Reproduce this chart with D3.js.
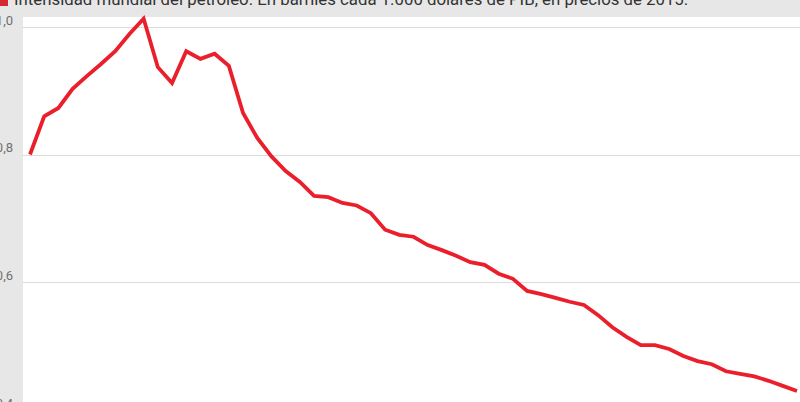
<!DOCTYPE html>
<html>
<head>
<meta charset="utf-8">
<script src="https://cdn.jsdelivr.net/npm/d3@7"></script>
<style>
  body { margin: 0; background: #e6e7e6; }
  svg { display: block; }
</style>
</head>
<body>
<svg id="chart" width="800" height="402"></svg>
<script>
let years = d3.range(1965, 2020);
let intensity = [
  0.800, 0.860, 0.873, 0.903, 0.923, 0.942, 0.962, 0.989, 1.013, 0.937,
  0.912, 0.962, 0.950, 0.958, 0.939, 0.865, 0.826, 0.797, 0.774, 0.757,
  0.735, 0.733, 0.724, 0.720, 0.708, 0.682, 0.674, 0.671, 0.658, 0.650,
  0.641, 0.631, 0.627, 0.613, 0.605, 0.586, 0.581, 0.575, 0.569, 0.564,
  0.548, 0.529, 0.514, 0.501, 0.501, 0.495, 0.484, 0.476, 0.471, 0.460,
  0.456, 0.452, 0.445, 0.437, 0.429
];
let yTicks = [0.4, 0.6, 0.8, 1.0];
let title = "Intensidad mundial del petróleo. En barriles cada 1.000 dólares de PIB, en precios de 2015.";

let data = years.map((y, i) => ({year: y, value: intensity[i]}));

let svg = d3.select("#chart");
let width = 800, height = 402;
let plotLeft = 23, plotTop = 17;

let lineColor = "#ea1f2b";
let gridColor = "#dcdcdc";
let labelColor = "#6f6f6f";

let x = d3.scaleLinear().domain([1965, 2019]).range([30, 797]);
let y = d3.scaleLinear().domain([0.4, 1.0]).range([409.5, 27]);

// grey frame + white plot area
svg.append("rect")
  .attr("width", width).attr("height", height)
  .attr("fill", "#e6e7e6");
svg.append("rect")
  .attr("x", plotLeft).attr("y", plotTop)
  .attr("width", width - plotLeft).attr("height", height - plotTop)
  .attr("fill", "#ffffff");

// gridlines
svg.append("g")
  .attr("transform", "translate(" + plotLeft + ",0)")
  .call(d3.axisLeft(y).tickValues(yTicks).tickSize(-(width - plotLeft)).tickFormat(""))
  .call(g => g.select(".domain").remove())
  .selectAll("line")
    .attr("stroke", gridColor)
    .attr("shape-rendering", "crispEdges");

// tick labels (the left edge of the original is cropped)
svg.append("g")
  .selectAll("text")
  .data(yTicks)
  .enter()
  .append("text")
  .attr("x", 13)
  .attr("y", d => Math.round(y(d)) - 2)
  .attr("text-anchor", "end")
  .attr("fill", labelColor)
  .style("font-family", "'Liberation Sans Narrow', 'Roboto', sans-serif")
  .style("font-size", "13px")
  .text(d => d3.format(".1f")(d).replace(".", ","));

// line
let line = d3.line()
  .x(d => x(d.year))
  .y(d => y(d.value));

svg.append("path")
  .datum(data)
  .attr("d", line)
  .attr("fill", "none")
  .attr("stroke", lineColor)
  .attr("stroke-width", 3.8)
  .attr("stroke-linejoin", "miter");

// legend swatch + title (cropped at top)
svg.append("rect")
  .attr("x", 0).attr("y", -4)
  .attr("width", 8).attr("height", 10)
  .attr("fill", "#d42a30");

svg.append("text")
  .attr("x", 14)
  .attr("y", 5)
  .attr("fill", "#333333")
  .style("font-family", "Roboto, sans-serif")
  .style("font-size", "16.8px")
  .text(title);
</script>
</body>
</html>
